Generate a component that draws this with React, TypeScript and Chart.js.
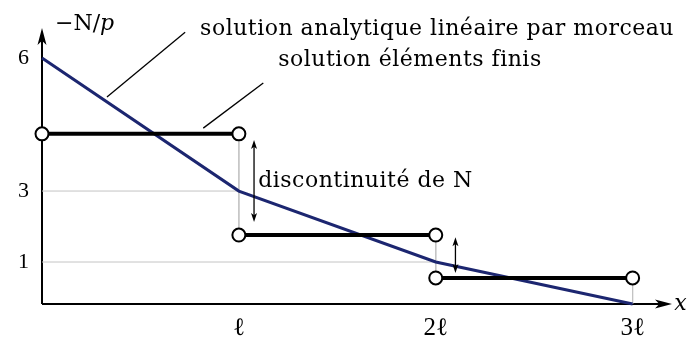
import React, { useEffect, useRef } from 'react';
import { Chart, registerables, LinearScale } from 'chart.js';

// ---- data ----
const X_NODES = [0, 1, 2, 3];
const ANALYTIC_Y = [6, 3, 1, 0];
const FE_START = [0, 1, 2];
const FE_END = [1, 2, 3];
const FE_VALUES = [4.29, 1.76, 0.62];
const Y_TICKS = [1, 3, 6];
const Y_TICK_LABELS = ['1', '3', '6'];
const X_TICKS = [1, 2, 3];
const X_TICK_LABELS = ['ℓ', '2ℓ', '3ℓ'];
const GUIDE_LEVELS = [3, 1];
const GUIDE_TO_X = [1, 2];

// schematic (non-uniform) vertical axis of the original drawing
const Y_WARP_VALUES = [0, 1, 3, 6, 7];
const Y_WARP_VISUAL = [0, 42, 113, 246, 289];

const FONT = '"DejaVu Serif", "Liberation Serif", serif';
const TICK_FONT = '"Liberation Serif", "DejaVu Serif", serif';
const BLUE = '#1c2670';
const GRAY = '#c4c4c4';

function interp(v: number, xs: number[], ys: number[]) {
  const n = xs.length - 1;
  let i = 1;
  if (v > xs[n]) i = n;
  else while (i < n && v > xs[i]) i++;
  return ys[i - 1] + ((v - xs[i - 1]) * (ys[i] - ys[i - 1])) / (xs[i] - xs[i - 1]);
}

class WarpedScale extends (LinearScale as any) {
  static id = 'warped';
  static defaults = (LinearScale as any).defaults;
  getPixelForValue(value: any) {
    if (value === null || value === undefined || isNaN(value)) return NaN;
    const a = interp(this.min, Y_WARP_VALUES, Y_WARP_VISUAL);
    const b = interp(this.max, Y_WARP_VALUES, Y_WARP_VISUAL);
    return this.getPixelForDecimal((interp(+value, Y_WARP_VALUES, Y_WARP_VISUAL) - a) / (b - a));
  }
  getValueForPixel(pixel: number) {
    const a = interp(this.min, Y_WARP_VALUES, Y_WARP_VISUAL);
    const b = interp(this.max, Y_WARP_VALUES, Y_WARP_VISUAL);
    const d = this.getDecimalForPixel(pixel);
    return interp(a + d * (b - a), Y_WARP_VISUAL, Y_WARP_VALUES);
  }
}

Chart.register(...registerables, WarpedScale as any);

const LEADERS = [
  [[0.727, 6.6], [0.33, 5.12]],
  [[1.124, 5.44], [0.819, 4.42]],
];
const DOUBLE_ARROWS = [
  [1.077, 4.15, 2.13],
  [2.1, 1.7, 0.74],
];
const LABELS = [
  { text: 'solution analytique linéaire par morceau', x: 0.803, y: 6.53 },
  { text: 'solution éléments finis', x: 1.2, y: 5.82 },
  { text: 'discontinuité de N', x: 1.098, y: 3.09 },
];

function arrowHead(ctx: CanvasRenderingContext2D, tx: number, ty: number, dx: number, dy: number, len: number, half: number) {
  const px = -dy, py = dx;
  ctx.beginPath();
  ctx.moveTo(tx, ty);
  ctx.lineTo(tx - dx * len + px * half, ty - dy * len + py * half);
  ctx.lineTo(tx - dx * len * 0.75, ty - dy * len * 0.75);
  ctx.lineTo(tx - dx * len - px * half, ty - dy * len - py * half);
  ctx.closePath();
  ctx.fill();
}

const axesPlugin = {
  id: 'axesPlugin',
  beforeDatasetsDraw(chart: any) {
    const { ctx, chartArea, scales } = chart;
    const x0 = scales.x.getPixelForValue(0);
    const y0 = scales.y.getPixelForValue(0);
    ctx.save();
    ctx.strokeStyle = '#000';
    ctx.fillStyle = '#000';
    ctx.lineWidth = 2;
    ctx.beginPath();
    ctx.moveTo(x0, y0);
    ctx.lineTo(x0, chartArea.top + 10);
    ctx.moveTo(x0, y0);
    ctx.lineTo(chartArea.right - 10, y0);
    ctx.stroke();
    arrowHead(ctx, x0, chartArea.top, 0, -1, 17, 4.5);
    arrowHead(ctx, chartArea.right, y0, 1, 0, 17, 4.5);
    ctx.restore();
  },
  afterDatasetsDraw(chart: any) {
    const { ctx, scales } = chart;
    const X = (v: number) => scales.x.getPixelForValue(v);
    const Y = (v: number) => scales.y.getPixelForValue(v);
    ctx.save();
    ctx.strokeStyle = '#000';
    ctx.fillStyle = '#000';
    ctx.lineWidth = 1.3;
    for (const [[ax, ay], [bx, by]] of LEADERS) {
      ctx.beginPath();
      ctx.moveTo(X(ax), Y(ay));
      ctx.lineTo(X(bx), Y(by));
      ctx.stroke();
    }
    for (const [xv, ya, yb] of DOUBLE_ARROWS) {
      const px = X(xv), pa = Y(ya), pb = Y(yb);
      ctx.beginPath();
      ctx.moveTo(px, pa + 6);
      ctx.lineTo(px, pb - 6);
      ctx.stroke();
      arrowHead(ctx, px, pa, 0, -1, 9, 3);
      arrowHead(ctx, px, pb, 0, 1, 9, 3);
    }
    ctx.textBaseline = 'alphabetic';
    ctx.textAlign = 'left';
    ctx.font = `22px ${FONT}`;
    (ctx as any).letterSpacing = '0.5px';
    for (const l of LABELS) ctx.fillText(l.text, X(l.x), Y(l.y));
    (ctx as any).letterSpacing = '0px';
    // axis titles
    const tx = X(0.066), ty = Y(6.65);
    ctx.font = `22px ${FONT}`;
    const pre = '−N/';
    ctx.fillText(pre, tx, ty);
    const w = ctx.measureText(pre).width;
    ctx.font = `italic 22px ${FONT}`;
    ctx.fillText('p', tx + w, ty);
    ctx.font = `italic 22px ${FONT}`;
    ctx.fillText('x', X(3.212), Y(-0.14));
    ctx.restore();
  },
};

export default function App() {
  const ref = useRef<HTMLCanvasElement>(null);
  useEffect(() => {
    if (!ref.current) return;
    const guides: any[] = [];
    GUIDE_LEVELS.forEach((lv, i) => {
      guides.push({
        data: [{ x: 0, y: lv }, { x: GUIDE_TO_X[i], y: lv }],
        borderColor: GRAY, borderWidth: 1, pointRadius: 0, order: 10, clip: false,
      });
    });
    // vertical guides between consecutive element ends
    FE_END.forEach((xe, i) => {
      const lower = i + 1 < FE_VALUES.length ? FE_VALUES[i + 1] : 0;
      guides.push({
        data: [{ x: xe, y: FE_VALUES[i] }, { x: xe, y: lower }],
        borderColor: GRAY, borderWidth: 1, pointRadius: 0, order: 10, clip: false,
      });
    });
    const fe = FE_VALUES.map((v, i) => ({
      data: [{ x: FE_START[i], y: v }, { x: FE_END[i], y: v }],
      borderColor: '#000', borderWidth: 4, pointRadius: 6.5, pointBorderWidth: 2,
      pointBackgroundColor: '#fff', pointBorderColor: '#000', order: 1, clip: false,
    }));
    const analytic = {
      data: X_NODES.map((x, i) => ({ x, y: ANALYTIC_Y[i] })),
      borderColor: BLUE, borderWidth: 3, pointRadius: 0, order: 2, clip: false,
    };
    const chart = new Chart(ref.current, {
      type: 'line',
      data: { datasets: [...guides, analytic, ...fe] as any },
      options: {
        animation: false,
        responsive: false,
        events: [],
        layout: { padding: { top: 28, right: 16, left: 0, bottom: 0 } },
        plugins: { legend: { display: false }, tooltip: { enabled: false } },
        elements: { line: { tension: 0, borderCapStyle: 'butt' } },
        scales: {
          x: {
            type: 'linear', min: 0, max: 3.2,
            grid: { display: false, drawTicks: false },
            border: { display: false },
            ticks: {
              padding: 9, color: '#000', maxRotation: 0, autoSkip: false,
              font: { family: TICK_FONT, size: 25 },
              callback: (v: any) => {
                const k = X_TICKS.indexOf(+v);
                return k >= 0 ? X_TICK_LABELS[k] : '';
              },
            },
            afterBuildTicks: (s: any) => { s.ticks = X_TICKS.map((value) => ({ value })); },
            afterFit: (s: any) => { s.height = 43; },
          },
          y: {
            type: 'warped' as any, min: 0, max: 6.7,
            grid: { display: false, drawTicks: false },
            border: { display: false },
            ticks: {
              padding: 13, color: '#000', autoSkip: false,
              font: { family: TICK_FONT, size: 22 },
              callback: (v: any) => {
                const k = Y_TICKS.indexOf(+v);
                return k >= 0 ? Y_TICK_LABELS[k] : '';
              },
            },
            afterBuildTicks: (s: any) => { s.ticks = Y_TICKS.map((value) => ({ value })); },
            afterFit: (s: any) => { s.width = 42; },
          },
        } as any,
      },
      plugins: [axesPlugin],
    });
    return () => chart.destroy();
  }, []);
  return (
    <div style={{ position: 'absolute', left: 0, top: 0, width: 688, height: 347, background: '#fff' }}>
      <canvas ref={ref} width={688} height={347} style={{ display: 'block', width: 688, height: 347 }} />
    </div>
  );
}
